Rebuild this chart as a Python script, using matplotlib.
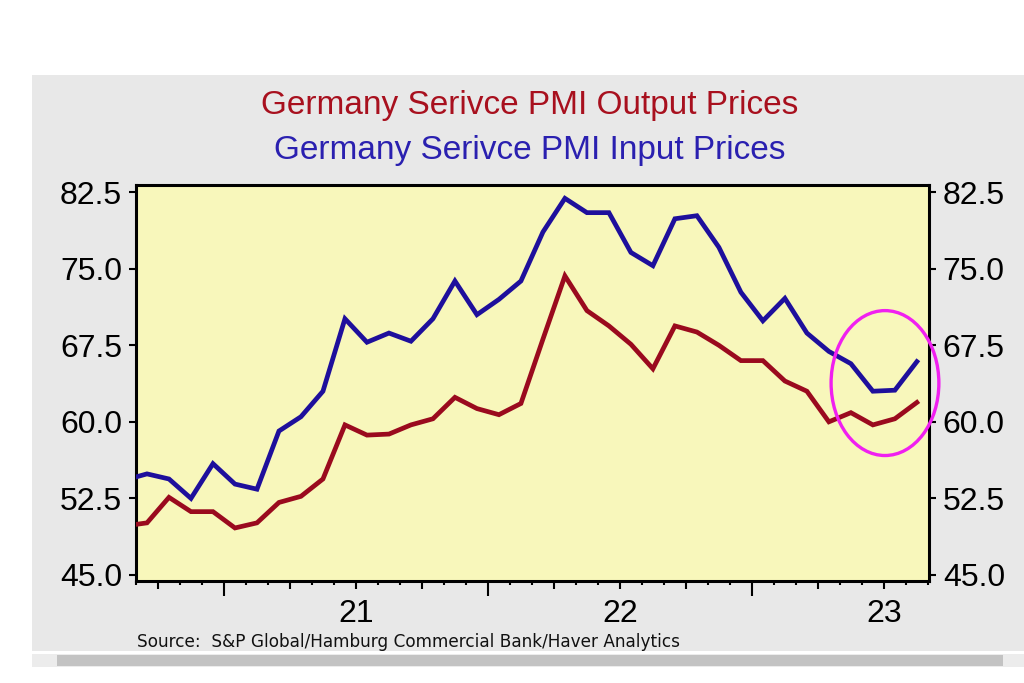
import numpy as np
import matplotlib
matplotlib.use('Agg')
import matplotlib.pyplot as plt
from matplotlib.patches import Rectangle, Ellipse
from matplotlib.ticker import FixedLocator, FuncFormatter

# monthly PMI readings, Aug 2020 .. Aug 2023
start_month = -5   # months relative to Jan 2021
input_prices = [54.3, 54.9, 54.4, 52.5, 55.9, 53.9, 53.4, 59.1, 60.5, 63.0,
                70.1, 67.8, 68.7, 67.9, 70.1, 73.8, 70.5, 72.0, 73.8, 78.6,
                81.9, 80.5, 80.5, 76.6, 75.3, 79.9, 80.2, 77.1, 72.7, 69.9,
                72.1, 68.7, 66.9, 65.7, 63.0, 63.1, 65.9]
output_prices = [49.8, 50.1, 52.6, 51.2, 51.2, 49.6, 50.1, 52.1, 52.7, 54.4,
                 59.7, 58.7, 58.8, 59.7, 60.3, 62.4, 61.3, 60.7, 61.8, 68.1,
                 74.3, 70.9, 69.4, 67.6, 65.2, 69.4, 68.8, 67.5, 66.0, 66.0,
                 64.0, 63.0, 60.0, 60.9, 59.7, 60.3, 61.9]
year_labels = ['21', '22', '23']
y_ticks = [45.0, 52.5, 60.0, 67.5, 75.0, 82.5]

title_out = 'Germany Serivce PMI Output Prices'
title_in = 'Germany Serivce PMI Input Prices'
source = 'Source:  S&P Global/Hamburg Commercial Bank/Haver Analytics'

red = '#9a0a1e'
blue = '#1e0f9c'

plt.rcParams['font.family'] = ['Liberation Sans', 'DejaVu Sans']

fig = plt.figure(figsize=(10.24, 6.83), dpi=100)
fig.patch.set_facecolor('white')

# grey panel + fake scroll bar
fig.patches.append(Rectangle((0.03125, 0.0469), 0.97, 0.8431, transform=fig.transFigure,
                             facecolor='#e8e8e8', edgecolor='none', zorder=-5))
fig.patches.append(Rectangle((0.03125, 0.024), 0.97, 0.018, transform=fig.transFigure,
                             facecolor='#ececec', edgecolor='none', zorder=-5))
fig.patches.append(Rectangle((0.0557, 0.025), 0.924, 0.016, transform=fig.transFigure,
                             facecolor='#c3c3c3', edgecolor='none', zorder=-4))

ax = fig.add_axes([0.1328, 0.1493, 0.7744, 0.5797])
ax.set_zorder(2)
ax.set_facecolor('#f8f7bb')

x = np.arange(len(input_prices)) + start_month + 0.5
ax.plot(x, output_prices, color=red, lw=3.4, solid_joinstyle='miter', zorder=3)
ax.plot(x, input_prices, color=blue, lw=3.4, solid_joinstyle='miter', zorder=3)

ax.set_xlim(-4, 32.05)
ax.set_ylim(44.4, 83.2)

for s in ax.spines.values():
    s.set_linewidth(2.2)
    s.set_color('black')

# y axis both sides
ax.set_yticks(y_ticks)
ax.yaxis.set_major_formatter(FuncFormatter(lambda v, p: '%.1f' % v))
ax.tick_params(axis='y', which='major', direction='out', length=5, width=1.5,
               labelsize=23, pad=5, left=True, right=True, labelleft=True, labelright=True)

# x axis: monthly minor, quarterly major, year ticks longer
quarters = list(range(-3, 33, 3))
ax.xaxis.set_major_locator(FixedLocator(quarters))
ax.xaxis.set_minor_locator(FixedLocator(np.arange(-4, 33)))
mid_years = {6 + 12 * i: lab for i, lab in enumerate(year_labels)}
ax.xaxis.set_major_formatter(FuncFormatter(lambda v, p: mid_years.get(int(round(v)), '')))
ax.tick_params(axis='x', which='major', direction='out', length=6, width=1.5,
               labelsize=23, pad=7)
ax.tick_params(axis='x', which='minor', direction='out', length=3, width=1.5)
for q, t in zip(quarters, ax.xaxis.get_major_ticks(len(quarters))):
    if q % 12 == 0:
        t.tick1line.set_markersize(10.5)

# hand-drawn highlight
ax.add_patch(Ellipse((30.05, 63.8), 4.9, 14.2, fill=False, edgecolor='#f020f0',
                     lw=2.4, clip_on=False, zorder=4))

fig.text(0.517, 0.845, title_out, color='#a8101e', fontsize=24, ha='center', va='center')
fig.text(0.517, 0.779, title_in, color='#2a20b0', fontsize=24, ha='center', va='center')
fig.text(0.134, 0.0605, source, color='#111111', fontsize=12.2, ha='left', va='center',
         family='DejaVu Sans')

fig.savefig('out.png', dpi=100, facecolor='white')
